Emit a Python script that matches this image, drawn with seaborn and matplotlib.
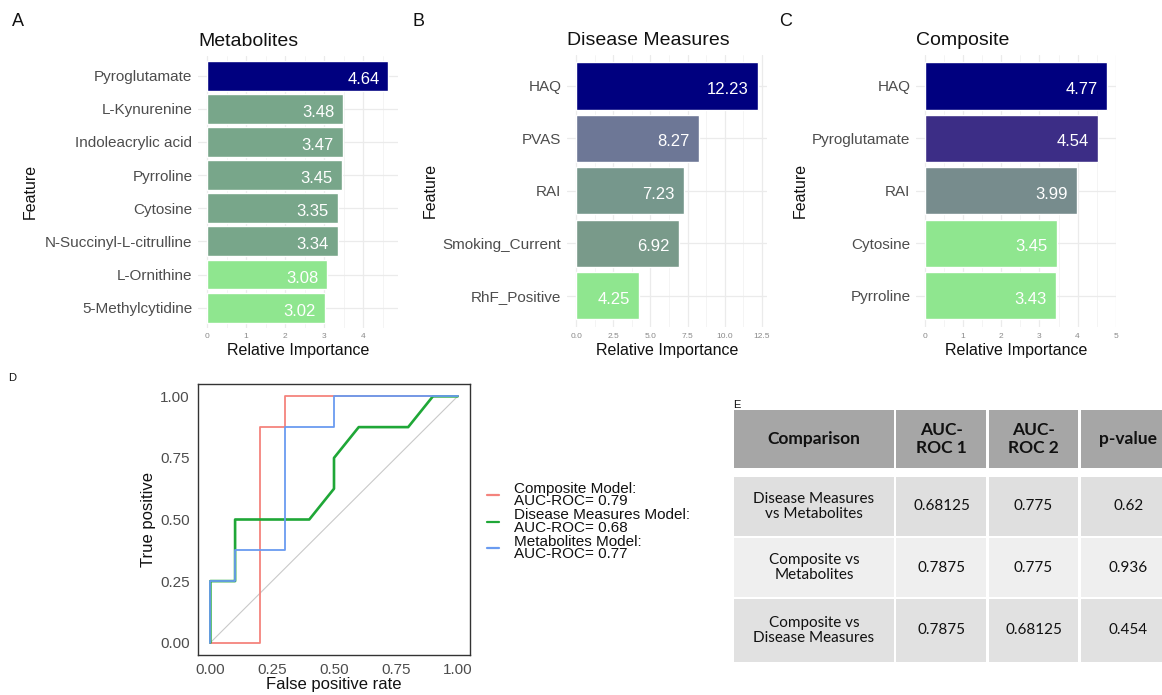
import matplotlib
matplotlib.use("Agg")
import matplotlib.pyplot as plt
import seaborn as sns
import pandas as pd
from matplotlib.ticker import MultipleLocator, FormatStrFormatter
from matplotlib.lines import Line2D
from matplotlib.patches import Rectangle

# ---------------- data ----------------
met_features = ["Pyroglutamate", "L-Kynurenine", "Indoleacrylic acid", "Pyrroline",
                "Cytosine", "N-Succinyl-L-citrulline", "L-Ornithine", "5-Methylcytidine"]
met_values = [4.64, 3.48, 3.47, 3.45, 3.35, 3.34, 3.08, 3.02]

dis_features = ["HAQ", "PVAS", "RAI", "Smoking_Current", "RhF_Positive"]
dis_values = [12.23, 8.27, 7.23, 6.92, 4.25]

comp_features = ["HAQ", "Pyroglutamate", "RAI", "Cytosine", "Pyrroline"]
comp_values = [4.77, 4.54, 3.99, 3.45, 3.43]

roc_composite_fpr = [0, 0.2, 0.2, 0.3, 0.3, 1.0]
roc_composite_tpr = [0, 0, 0.875, 0.875, 1.0, 1.0]
roc_disease_fpr = [0, 0, 0.1, 0.1, 0.4, 0.5, 0.5, 0.6, 0.8, 0.9, 1.0]
roc_disease_tpr = [0, 0.25, 0.25, 0.5, 0.5, 0.625, 0.75, 0.875, 0.875, 1.0, 1.0]
roc_metab_fpr = [0, 0, 0.1, 0.1, 0.3, 0.3, 0.5, 0.5, 1.0]
roc_metab_tpr = [0, 0.25, 0.25, 0.375, 0.375, 0.875, 0.875, 1.0, 1.0]
roc_labels = ["Composite Model:\nAUC-ROC= 0.79",
              "Disease Measures Model:\nAUC-ROC= 0.68",
              "Metabolites Model:\nAUC-ROC= 0.77"]

table_header = ["Comparison", "AUC-\nROC 1", "AUC-\nROC 2", "p-value"]
table_rows = [["Disease Measures\nvs Metabolites", "0.68125", "0.775", "0.62"],
              ["Composite vs\nMetabolites", "0.7875", "0.775", "0.936"],
              ["Composite vs\nDisease Measures", "0.7875", "0.68125", "0.454"]]

# ---------------- styles ----------------
met_colors = ["#00007F", "#78A68A", "#78A68A", "#78A68A", "#78A68A", "#78A68A", "#8FE68F", "#8FE68F"]
dis_colors = ["#00007F", "#6D7796", "#76978C", "#799A8A", "#8FE68F"]
comp_colors = ["#00007F", "#3C2D86", "#778C8D", "#8FE68F", "#8FE68F"]
roc_colors = ["#F4837D", "#1FA737", "#6A9BF0"]

sns.set_theme(style="white")
plt.rcParams['font.family'] = ['Liberation Sans', 'DejaVu Sans']

W, H = 1162, 695
fig = plt.figure(figsize=(W / 100, H / 100), dpi=100)
fig.patch.set_facecolor("white")


def pax(l, t, r, b):
    return fig.add_axes([l / W, 1 - b / H, (r - l) / W, (b - t) / H])


def bar_panel(rect, feats, vals, cols, title, major, fmt, ylabel_px):
    l, t, r, b = rect
    ax = pax(l, t, r, b)
    df = pd.DataFrame({"feature": feats, "value": vals})
    sns.barplot(data=df, x="value", y="feature", hue="feature", order=feats,
                hue_order=feats, palette=dict(zip(feats, cols)), legend=False,
                saturation=1, width=0.9, ax=ax, zorder=2)
    vmax = max(vals)
    ax.set_xlim(-0.05 * vmax, 1.05 * vmax)
    ax.set_ylim(len(feats) - 1 + 0.6, -0.6)
    ax.xaxis.set_major_locator(MultipleLocator(major))
    ax.xaxis.set_minor_locator(MultipleLocator(major / 2))
    ax.xaxis.set_major_formatter(FormatStrFormatter(fmt))
    ax.set_axisbelow(True)
    ax.grid(True, which="major", color="#EBEBEB", lw=0.9)
    ax.grid(True, which="minor", axis="x", color="#F3F3F3", lw=0.6)
    for s in ax.spines.values():
        s.set_visible(False)
    ax.tick_params(axis="x", which="both", length=0, labelsize=6, labelcolor="#8A8A8A", pad=4)
    ax.tick_params(axis="y", length=0, labelsize=11, labelcolor="#4D4D4D", pad=4)
    for i, v in enumerate(vals):
        ax.annotate(f"{v:.2f}", xy=(v, i), xytext=(-6.5, -2.5), textcoords="offset points",
                    ha="right", va="center", color="white", fontsize=12, zorder=3)
    ax.set_title(title, loc="left", fontsize=14, pad=7, color="#111111")
    ax.set_xlabel("Relative Importance", fontsize=11.5, color="#111111")
    ax.xaxis.set_label_coords(0.5, -(350 - b) / (b - t))
    ax.xaxis.label.set_verticalalignment("center")
    ax.set_ylabel("Feature", fontsize=11.5, color="#111111")
    ax.yaxis.set_label_coords((ylabel_px - l) / (r - l), 0.5)
    ax.yaxis.label.set_horizontalalignment("center")
    ax.yaxis.label.set_verticalalignment("center")
    return ax


bar_panel((198, 55.7, 397.5, 327.6), met_features, met_values, met_colors,
          "Metabolites", 1, "%d", 30)
bar_panel((567, 54.5, 767, 327), dis_features, dis_values, dis_colors,
          "Disease Measures", 2.5, "%.1f", 430)
bar_panel((916, 54.5, 1116, 327), comp_features, comp_values, comp_colors,
          "Composite", 1, "%d", 800)

for lab, x, y, fs in [("A", 18, 21, 13), ("B", 418, 21, 13), ("C", 786, 21, 13),
                      ("D", 12, 378, 8), ("E", 737, 405, 8)]:
    fig.text(x / W, 1 - y / H, lab, ha="center", va="center", fontsize=fs, color="#111111")

# ---------------- ROC panel ----------------
axr = pax(198, 384, 470, 655)
axr.plot([0, 1], [0, 1], color="#C9C9C9", lw=0.8, zorder=1)
roc_sets = [(roc_composite_fpr, roc_composite_tpr, 1.3),
            (roc_disease_fpr, roc_disease_tpr, 1.9),
            (roc_metab_fpr, roc_metab_tpr, 1.3)]
for (fx, ty, lw), lab, col in zip(roc_sets, roc_labels, roc_colors):
    dfr = pd.DataFrame({"fpr": fx, "tpr": ty})
    sns.lineplot(data=dfr, x="fpr", y="tpr", sort=False, estimator=None,
                 color=col, lw=lw, ax=axr, zorder=2)
axr.set_xlim(-0.05, 1.05)
axr.set_ylim(-0.05, 1.05)
ticks = [0, 0.25, 0.5, 0.75, 1.0]
axr.set_xticks(ticks)
axr.set_yticks(ticks)
axr.xaxis.set_major_formatter(FormatStrFormatter("%.2f"))
axr.yaxis.set_major_formatter(FormatStrFormatter("%.2f"))
for s in axr.spines.values():
    s.set_color("#333333")
    s.set_linewidth(1.0)
axr.tick_params(length=3, width=0.8, color="#333333", labelsize=11, labelcolor="#4D4D4D", pad=3)
axr.grid(False)
axr.set_xlabel("False positive rate", fontsize=12, color="#111111")
axr.xaxis.set_label_coords(0.5, -(684 - 655) / (655 - 384))
axr.xaxis.label.set_verticalalignment("center")
axr.set_ylabel("True positive", fontsize=12, color="#111111")
axr.yaxis.set_label_coords((148 - 198) / (470 - 198), 0.5)
axr.yaxis.label.set_verticalalignment("center")

handles = [Line2D([0], [0], color=c, lw=1.6) for c in roc_colors]
leg = fig.legend(handles, roc_labels, loc="upper left",
                 bbox_to_anchor=(487 / W, 1 - 482 / H), frameon=False, fontsize=11,
                 handlelength=0.8, handletextpad=1.0, labelspacing=0.0, borderaxespad=0,
                 borderpad=0)
for t in leg.get_texts():
    t.set_linespacing(0.85)
    t.set_color("#111111")

# ---------------- table panel ----------------
axt = pax(720, 395, 1162, 675)
axt.set_xlim(720, 1162)
axt.set_ylim(675, 395)
axt.axis("off")
col_w = [160, 90, 89, 96]
gap = 2.5
row_h = [58, 59, 59, 63]
row_gap = [9, 2, 2]
row_col = ["#A6A6A6", "#DFDFDF", "#EFEFEF", "#E1E1E1"]
tfont = ["Lato", "DejaVu Sans"]
y = 410
all_rows = [table_header] + table_rows
for ri, (row, h) in enumerate(zip(all_rows, row_h)):
    x = 734
    for ci, (txt, w) in enumerate(zip(row, col_w)):
        axt.add_patch(Rectangle((x, y), w, h, facecolor=row_col[ri], edgecolor="none", clip_on=False))
        axt.text(x + w / 2, y + h / 2, txt, ha="center", va="center",
                 fontsize=12.5 if ri == 0 else 11, fontweight="bold" if ri == 0 else "normal",
                 family=tfont, color="#111111", linespacing=1.15)
        x += w + gap
    if ri < len(row_gap):
        y += h + row_gap[ri]

fig.savefig("out.png", dpi=100, facecolor="white")
